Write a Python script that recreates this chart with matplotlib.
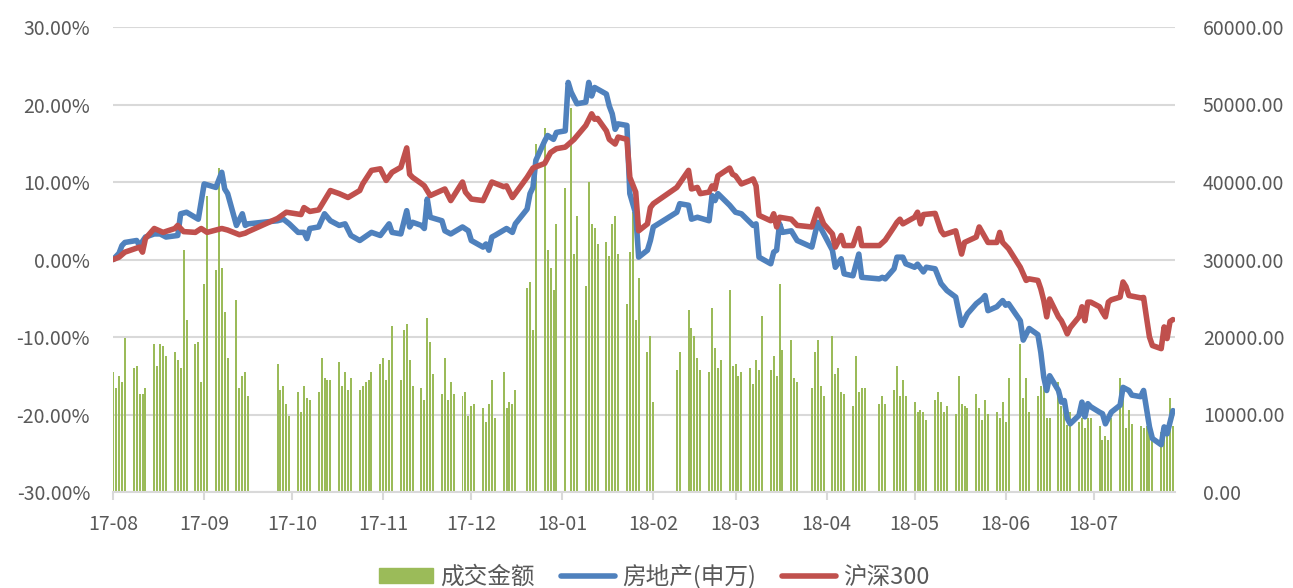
import matplotlib.pyplot as plt
import matplotlib.dates as mdates
from matplotlib.patches import Patch
from matplotlib.lines import Line2D
import numpy as np
import pandas as pd

nan = np.nan

# market closed on these weekdays
holidays = ["2017-10-02", "2017-10-03", "2017-10-04", "2017-10-05", "2017-10-06",
            "2018-01-01", "2018-02-15", "2018-02-16", "2018-02-19", "2018-02-20",
            "2018-02-21", "2018-04-05", "2018-04-06", "2018-04-30", "2018-05-01",
            "2018-06-18"]

# 成交金额, one value per trading day, listed week by week
amount_weeks = [
    [15470, 13400, 14950, 14180, 19850],
    [15980, 16240, 12630, 12630, 13400],
    [19080, 16240, 19080, 18820, 17530],
    [18050, 17010, 15980, 31190, 22170],
    [19080, 19330, 14180, 26810, 38150],
    [28620, 41760, 28870, 23200, 17270],
    [24750, 13400, 14950, 15470, 12370],
    [16500, 13150, 13660, 11340, 9800],
    [12890, 10310, 13660, 12120, 11860],
    [12890, 17270, 14690, 14440, 14440],
    [16760, 13660, 15470, 13150, 14690],
    [13150, 13660, 14180, 14440, 15470],
    [16500, 17270, 14440, 17010, 21400],
    [14440, 20880, 21660, 17010, 13660],
    [13400, 11860, 22430, 19330, 15210],
    [12630, 17270, 11860, 14180, 12630],
    [12370, 12890, 9800, 11090, 11340],
    [10830, 9020, 11340, 14440, 9540],
    [15470, 10830, 11600, 11340, 13150],
    [26300, 27070, 20880, 44860],
    [46920, 31190, 28870, 26040, 34550],
    [39190, nan, 49500, 30680, 35580],
    [26550, 39960, 34550, 34030, 31970],
    [32230, 30420, 34550, 35580, 30680],
    [24230, 30940, 36090, 22170, 27590],
    [18050, 20110, 11600],
    [15730, 18050],
    [23460, 21140, 20110, 17270, 15730],
    [15470, 23720, 18560, 15980, 17010],
    [26040, 16240, 16500, 14950, 15470],
    [15980, 13920, 17010, 15730, 22690],
    [15730, 17530, 14950, 26810, 18300],
    [19590, 14690, 14180],
    [13400, 18050, 19590, 13660, 12370],
    [20110, 15210, 15980, 12890, 12630],
    [11090, 17530, 12890, 13400, 13400],
    [11340, 12370, 11340],
    [13150, 16240, 12370, 14440, 12370],
    [11600, 10310, 10570, 10310, 9280],
    [11860, 12890, 11600, 10310, 11090],
    [10050, 14950, 11340, 11090, 10830],
    [12630, 10830, 9280, 11860, 10050],
    [10310, 9540, 11600, 9020, 14690],
    [19080, 12120, 14690, 10310],
    [12370, 13660, 14690, 9540, 9540],
    [14180, 11090, 10830, 8590, 10310],
    [9020, 9540, 8250, 9540, 9540],
    [8500, 6700, 7220, 6700, 9540],
    [14690, 12120, 8250, 10570, 8760],
    [8500, 8250, 8460, 7730, 8000],
    [7700, 8460, 8460, 12120, 8460],
]

# 房地产(申万), cumulative change in %
realty_pts = [
    ("2017-08-14", 0.0), ("2017-08-15", 0.4), ("2017-08-16", 0.8), ("2017-08-17", 1.8),
    ("2017-08-18", 2.2), ("2017-08-22", 2.45), ("2017-08-23", 1.8), ("2017-08-25", 2.9),
    ("2017-08-28", 3.3), ("2017-08-30", 3.3), ("2017-09-01", 2.9), ("2017-09-05", 3.1),
    ("2017-09-06", 5.9), ("2017-09-08", 6.1), ("2017-09-12", 5.2), ("2017-09-14", 9.75),
    ("2017-09-18", 9.3), ("2017-09-20", 11.25), ("2017-09-21", 9.1), ("2017-09-22", 8.5),
    ("2017-09-25", 4.4), ("2017-09-27", 5.9), ("2017-09-28", 4.4), ("2017-09-29", 4.6),
    ("2017-10-09", 5.0), ("2017-10-11", 5.2), ("2017-10-13", 4.6), ("2017-10-16", 3.5),
    ("2017-10-18", 3.5), ("2017-10-19", 2.7), ("2017-10-20", 4.0), ("2017-10-23", 4.2),
    ("2017-10-25", 5.9), ("2017-10-27", 5.0), ("2017-10-30", 4.4), ("2017-11-01", 4.6),
    ("2017-11-03", 3.1), ("2017-11-06", 2.45), ("2017-11-10", 3.5), ("2017-11-13", 3.1),
    ("2017-11-16", 4.6), ("2017-11-17", 3.5), ("2017-11-20", 3.3), ("2017-11-22", 6.3),
    ("2017-11-23", 4.2), ("2017-11-24", 4.8), ("2017-11-27", 4.4), ("2017-11-28", 4.0),
    ("2017-11-29", 7.8), ("2017-11-30", 5.45), ("2017-12-04", 5.0), ("2017-12-05", 3.7),
    ("2017-12-07", 3.3), ("2017-12-11", 4.2), ("2017-12-13", 3.7), ("2017-12-14", 2.45),
    ("2017-12-18", 1.6), ("2017-12-19", 2.0), ("2017-12-20", 1.2), ("2017-12-21", 2.9),
    ("2017-12-22", 3.1), ("2017-12-26", 4.0), ("2017-12-28", 3.5), ("2017-12-29", 4.6),
    ("2018-01-02", 6.5), ("2018-01-03", 8.5), ("2018-01-04", 9.3), ("2018-01-05", 12.8),
    ("2018-01-08", 15.3), ("2018-01-09", 16.0), ("2018-01-11", 15.5), ("2018-01-12", 16.4),
    ("2018-01-15", 16.6), ("2018-01-16", 22.85), ("2018-01-17", 21.6), ("2018-01-19", 20.1),
    ("2018-01-22", 20.3), ("2018-01-23", 22.85), ("2018-01-24", 21.1), ("2018-01-25", 22.2),
    ("2018-01-29", 21.35), ("2018-01-30", 19.8), ("2018-01-31", 18.8), ("2018-02-01", 16.8),
    ("2018-02-02", 17.5), ("2018-02-05", 17.3), ("2018-02-06", 8.5), ("2018-02-08", 5.9),
    ("2018-02-09", 0.3), ("2018-02-12", 1.2), ("2018-02-13", 2.45), ("2018-02-14", 4.2),
    ("2018-02-22", 6.1), ("2018-02-23", 7.2), ("2018-02-26", 7.0), ("2018-02-27", 5.2),
    ("2018-03-01", 5.45), ("2018-03-05", 5.0), ("2018-03-06", 8.25), ("2018-03-07", 7.6),
    ("2018-03-08", 8.5), ("2018-03-12", 7.0), ("2018-03-14", 6.1), ("2018-03-16", 5.9),
    ("2018-03-20", 4.4), ("2018-03-21", 4.6), ("2018-03-22", 0.3), ("2018-03-26", -0.55),
    ("2018-03-27", 0.95), ("2018-03-28", 1.2), ("2018-03-29", 4.6), ("2018-03-30", 3.5),
    ("2018-04-02", 3.7), ("2018-04-04", 2.45), ("2018-04-09", 1.6), ("2018-04-11", 4.8),
    ("2018-04-16", 1.2), ("2018-04-17", -1.0), ("2018-04-19", 0.1), ("2018-04-20", -1.85),
    ("2018-04-23", -2.1), ("2018-04-25", 0.7), ("2018-04-26", -2.3), ("2018-05-02", -2.5),
    ("2018-05-03", -2.3), ("2018-05-04", -2.5), ("2018-05-07", -1.2), ("2018-05-08", 0.3),
    ("2018-05-10", 0.3), ("2018-05-11", -0.55), ("2018-05-14", -1.0), ("2018-05-15", -0.6),
    ("2018-05-17", -1.6), ("2018-05-18", -1.0), ("2018-05-21", -1.2), ("2018-05-23", -3.1),
    ("2018-05-25", -4.0), ("2018-05-28", -4.85), ("2018-05-30", -8.5), ("2018-06-01", -7.0),
    ("2018-06-04", -5.7), ("2018-06-06", -5.1), ("2018-06-07", -4.65), ("2018-06-08", -6.6),
    ("2018-06-11", -6.1), ("2018-06-13", -5.3), ("2018-06-14", -5.9), ("2018-06-15", -5.7),
    ("2018-06-19", -7.9), ("2018-06-20", -10.4), ("2018-06-22", -8.9), ("2018-06-25", -9.7),
    ("2018-06-26", -12.0), ("2018-06-27", -15.2), ("2018-06-28", -16.9), ("2018-06-29", -15.0),
    ("2018-07-02", -16.9), ("2018-07-03", -18.4), ("2018-07-04", -18.2), ("2018-07-05", -20.5),
    ("2018-07-06", -21.2), ("2018-07-09", -20.1), ("2018-07-10", -18.4), ("2018-07-11", -20.3),
    ("2018-07-12", -18.6), ("2018-07-13", -19.0), ("2018-07-16", -19.7), ("2018-07-17", -19.9),
    ("2018-07-18", -21.2), ("2018-07-20", -19.7), ("2018-07-23", -18.8), ("2018-07-24", -16.5),
    ("2018-07-26", -16.9), ("2018-07-27", -17.5), ("2018-07-30", -17.7), ("2018-07-31", -16.9),
    ("2018-08-02", -21.6), ("2018-08-03", -23.1), ("2018-08-06", -23.9), ("2018-08-07", -21.6),
    ("2018-08-08", -22.5), ("2018-08-10", -19.5),
]

# 沪深300, cumulative change in %
hs300_pts = [
    ("2017-08-14", 0.0), ("2017-08-16", 0.3), ("2017-08-18", 0.95), ("2017-08-23", 1.6),
    ("2017-08-24", 0.95), ("2017-08-25", 2.7), ("2017-08-28", 4.0), ("2017-08-31", 3.5),
    ("2017-09-04", 4.0), ("2017-09-05", 4.4), ("2017-09-07", 3.6), ("2017-09-11", 3.5),
    ("2017-09-13", 4.0), ("2017-09-15", 3.5), ("2017-09-20", 4.0), ("2017-09-22", 3.8),
    ("2017-09-26", 3.2), ("2017-09-28", 3.4), ("2017-09-29", 3.6), ("2017-10-09", 5.3),
    ("2017-10-12", 6.1), ("2017-10-17", 5.8), ("2017-10-18", 6.7), ("2017-10-20", 6.2),
    ("2017-10-23", 6.4), ("2017-10-27", 8.9), ("2017-10-30", 8.5), ("2017-11-02", 8.0),
    ("2017-11-06", 8.9), ("2017-11-07", 9.75), ("2017-11-10", 11.5), ("2017-11-13", 11.7),
    ("2017-11-15", 10.2), ("2017-11-17", 11.25), ("2017-11-20", 11.9), ("2017-11-22", 14.4),
    ("2017-11-23", 11.0), ("2017-11-24", 10.6), ("2017-11-27", 9.8), ("2017-11-28", 9.5),
    ("2017-11-30", 8.25), ("2017-12-05", 9.1), ("2017-12-07", 7.6), ("2017-12-11", 10.0),
    ("2017-12-12", 8.7), ("2017-12-14", 7.8), ("2017-12-18", 7.6), ("2017-12-21", 10.0),
    ("2017-12-25", 9.4), ("2017-12-26", 9.5), ("2017-12-28", 8.0), ("2018-01-02", 10.6),
    ("2018-01-04", 11.8), ("2018-01-08", 12.4), ("2018-01-10", 13.8), ("2018-01-12", 14.3),
    ("2018-01-15", 14.5), ("2018-01-18", 15.5), ("2018-01-22", 17.3), ("2018-01-24", 18.8),
    ("2018-01-25", 18.1), ("2018-01-26", 18.2), ("2018-01-29", 16.6), ("2018-01-30", 15.5),
    ("2018-02-01", 14.9), ("2018-02-02", 15.8), ("2018-02-05", 15.5), ("2018-02-06", 10.6),
    ("2018-02-08", 8.7), ("2018-02-09", 3.7), ("2018-02-12", 4.6), ("2018-02-13", 6.7),
    ("2018-02-14", 7.2), ("2018-02-22", 9.3), ("2018-02-26", 11.5), ("2018-02-27", 9.1),
    ("2018-03-01", 9.3), ("2018-03-02", 8.5), ("2018-03-05", 8.7), ("2018-03-06", 9.5),
    ("2018-03-07", 9.1), ("2018-03-08", 10.8), ("2018-03-12", 11.8), ("2018-03-13", 11.0),
    ("2018-03-14", 10.8), ("2018-03-16", 9.75), ("2018-03-19", 10.2), ("2018-03-20", 10.4),
    ("2018-03-21", 9.5), ("2018-03-22", 5.7), ("2018-03-26", 5.0), ("2018-03-27", 5.9),
    ("2018-03-28", 4.2), ("2018-03-29", 5.45), ("2018-04-02", 5.2), ("2018-04-04", 4.4),
    ("2018-04-09", 4.2), ("2018-04-11", 6.5), ("2018-04-13", 4.6), ("2018-04-16", 3.3),
    ("2018-04-17", 1.6), ("2018-04-19", 3.1), ("2018-04-20", 1.8), ("2018-04-23", 1.8),
    ("2018-04-25", 4.0), ("2018-04-26", 1.8), ("2018-05-02", 1.8), ("2018-05-04", 2.5),
    ("2018-05-07", 4.2), ("2018-05-08", 4.8), ("2018-05-09", 5.2), ("2018-05-10", 4.6),
    ("2018-05-14", 5.45), ("2018-05-15", 6.1), ("2018-05-16", 4.6), ("2018-05-17", 5.8),
    ("2018-05-21", 5.95), ("2018-05-23", 3.7), ("2018-05-24", 3.2), ("2018-05-28", 3.7),
    ("2018-05-30", 0.7), ("2018-05-31", 2.2), ("2018-06-04", 2.9), ("2018-06-05", 4.2),
    ("2018-06-08", 2.2), ("2018-06-11", 2.2), ("2018-06-12", 3.5), ("2018-06-13", 2.2),
    ("2018-06-15", 1.4), ("2018-06-19", -1.0), ("2018-06-20", -1.85), ("2018-06-21", -2.7),
    ("2018-06-22", -2.5), ("2018-06-25", -2.7), ("2018-06-26", -3.8), ("2018-06-27", -5.3),
    ("2018-06-28", -7.4), ("2018-06-29", -5.1), ("2018-07-02", -7.4), ("2018-07-03", -7.9),
    ("2018-07-04", -8.7), ("2018-07-05", -9.6), ("2018-07-06", -8.8), ("2018-07-09", -7.4),
    ("2018-07-10", -6.1), ("2018-07-11", -7.9), ("2018-07-12", -5.5), ("2018-07-13", -5.5),
    ("2018-07-16", -6.1), ("2018-07-17", -6.8), ("2018-07-18", -7.4), ("2018-07-19", -5.5),
    ("2018-07-20", -5.2), ("2018-07-23", -4.85), ("2018-07-24", -2.9), ("2018-07-25", -3.5),
    ("2018-07-26", -4.65), ("2018-07-30", -4.95), ("2018-07-31", -4.9), ("2018-08-01", -7.5),
    ("2018-08-02", -10.0), ("2018-08-03", -11.1), ("2018-08-06", -11.5), ("2018-08-07", -8.7),
    ("2018-08-08", -10.2), ("2018-08-09", -8.0), ("2018-08-10", -7.75),
]

pct_ticks = [-30, -20, -10, 0, 10, 20, 30]
amt_ticks = [0, 10000, 20000, 30000, 40000, 50000, 60000]
series_names = ["成交金额", "房地产(申万)", "沪深300"]

GREEN = "#9BBB59"
BLUE = "#4F81BD"
RED = "#C0504D"
TXT = "#595959"
LW = 4.0

plt.rcParams['font.family'] = ['Noto Sans CJK SC', 'DejaVu Sans']

days = pd.bdate_range("2017-08-14", "2018-08-10")
days = days[~days.isin(pd.to_datetime(holidays))]
amount = np.array([v for wk in amount_weeks for v in wk], dtype=float)
assert len(amount) == len(days), (len(amount), len(days))

fig = plt.figure(figsize=(12.93, 5.88), dpi=100)
W, H = 1293, 588
ax = fig.add_axes([113 / W, 1 - 492 / H, 1062 / W, 465 / H])
ax2 = ax.twinx()

# bars on the base axes (right scale), lines on the twin (left scale) so they sit on top
ax.bar(mdates.date2num(days), amount, width=0.68, color=GREEN, zorder=2)
ax.set_ylim(0, 60000)
ax.set_yticks(amt_ticks)
ax.set_yticklabels([f"{v:.2f}" for v in amt_ticks])
ax.yaxis.tick_right()
ax.grid(axis="y", color="#D9D9D9", linewidth=1.5)
ax.set_axisbelow(True)

rd = mdates.date2num(pd.to_datetime([d for d, _ in realty_pts]))
hd = mdates.date2num(pd.to_datetime([d for d, _ in hs300_pts]))
ax2.plot(rd, [v for _, v in realty_pts], color=BLUE, lw=LW, solid_joinstyle="round",
         solid_capstyle="round", zorder=3)
ax2.plot(hd, [v for _, v in hs300_pts], color=RED, lw=LW, solid_joinstyle="round",
         solid_capstyle="round", zorder=4)
ax2.set_ylim(-30, 30)
ax2.set_yticks(pct_ticks)
ax2.set_yticklabels([f"{v:.2f}%" for v in pct_ticks])
ax2.yaxis.tick_left()

x0 = mdates.date2num(pd.Timestamp("2017-08-14"))
ax.set_xlim(x0 - 0.05, x0 + 361.7)
xt = pd.date_range("2017-08-14", "2018-07-14", freq=pd.DateOffset(months=1))
ax.set_xticks(mdates.date2num(xt))
ax.set_xticklabels([d.strftime("%y-%m") for d in xt])

for a in (ax, ax2):
    for s in a.spines.values():
        s.set_visible(False)
ax.spines["bottom"].set_visible(True)
ax.spines["bottom"].set_color("#D9D9D9")
ax.spines["bottom"].set_linewidth(1.5)

ax.tick_params(axis="x", colors="#D9D9D9", length=6, width=1.5, labelcolor=TXT,
               labelsize=14, pad=10)
ax.tick_params(axis="y", length=0, labelcolor=TXT, labelsize=14, pad=20)
ax2.tick_params(axis="y", length=0, labelcolor=TXT, labelsize=14, pad=16.5)

handles = [Patch(color=GREEN), Line2D([], [], color=BLUE, lw=LW, solid_capstyle="round"),
           Line2D([], [], color=RED, lw=LW, solid_capstyle="round")]
fig.legend(handles, series_names, loc="center", bbox_to_anchor=(0.506, 0.02), ncol=3,
           frameon=False, fontsize=17, handlelength=2.3, handleheight=0.6,
           columnspacing=1.1, handletextpad=0.3, labelcolor=TXT)

fig.savefig("out.png", dpi=100)
